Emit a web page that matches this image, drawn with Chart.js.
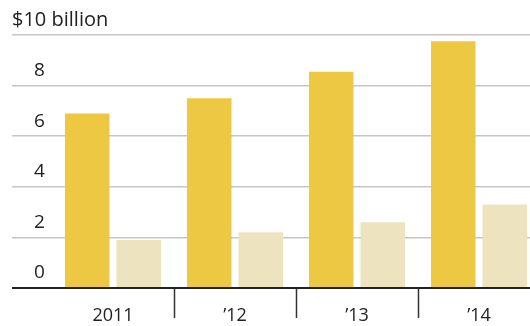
<!DOCTYPE html>
<html><head><meta charset="utf-8">
<script src="https://cdn.jsdelivr.net/npm/chart.js@4/dist/chart.umd.min.js"></script>
<style>
html,body{margin:0;padding:0;background:#fff;overflow:hidden;width:530px;height:326px;}
#wrap{position:absolute;left:0;top:0;width:542px;height:326px;}
</style></head><body>
<div id="wrap"><canvas id="c" width="542" height="326"></canvas></div>
<script>
const categories = ['2011', '\u201912', '\u201913', '\u201914'];
const seriesA = [6.9, 7.5, 8.55, 9.75];
const seriesB = [1.9, 2.2, 2.6, 3.3];
const yTicks = [0, 2, 4, 6, 8, 10];
const yTickLabels = ['0', '2', '4', '6', '8', ''];
const unitLabel = '$10 billion';

Chart.defaults.font.family = '"Open Sans", "Noto Sans", sans-serif';
Chart.defaults.color = '#222';

new Chart(document.getElementById('c'), {
  type: 'bar',
  data: {
    labels: categories,
    datasets: [
      { label: 'A', data: seriesA, backgroundColor: '#ecc843', borderWidth: 0,
        categoryPercentage: 0.844, barPercentage: 0.864 },
      { label: 'B', data: seriesB, backgroundColor: '#eee3bf', borderWidth: 0,
        categoryPercentage: 0.844, barPercentage: 0.864 }
    ]
  },
  options: {
    responsive: false,
    devicePixelRatio: 1,
    animation: false,
    layout: { padding: { left: 12, right: 2, top: 0, bottom: 0 } },
    plugins: {
      legend: { display: false },
      tooltip: { enabled: false },
      title: {
        display: true, text: unitLabel, align: 'start', color: '#222',
        font: { size: 20, weight: 'normal' }, padding: { top: 8.5, bottom: 2.5 }
      }
    },
    scales: {
      x: {
        type: 'category',
        offset: true,
        grid: {
          display: true, drawOnChartArea: false, drawTicks: true, tickLength: 30, offset: true,
          tickColor: (ctx) => ctx.index === 0 ? 'rgba(0,0,0,0)' : '#333', tickWidth: 1.5
        },
        border: { display: true, color: '#222', width: 2, z: 1 },
        ticks: { color: '#222', font: { size: 18 }, padding: -13, maxRotation: 0, autoSkip: false },
        afterFit: (s) => { s.height = 38; }
      },
      y: {
        min: 0, max: 10,
        afterBuildTicks: (s) => { s.ticks = yTicks.map(v => ({ value: v })); },
        ticks: {
          callback: (v) => yTickLabels[yTicks.indexOf(v)],
          mirror: true, padding: -18, labelOffset: -15, crossAlign: 'near',
          color: '#222', font: { size: 19 }
        },
        grid: {
          drawTicks: true, tickLength: 40,
          color: (ctx) => (ctx.tick && ctx.tick.value === 0) ? '#222' : '#c6c6c6',
          tickColor: (ctx) => (ctx.tick && ctx.tick.value === 0) ? '#222' : '#c6c6c6',
          lineWidth: (ctx) => (ctx.tick && ctx.tick.value === 0) ? 2 : 1.5
        },
        border: { display: false },
        afterFit: (s) => { s.width = 40; }
      }
    }
  }
});
</script>
</body></html>
